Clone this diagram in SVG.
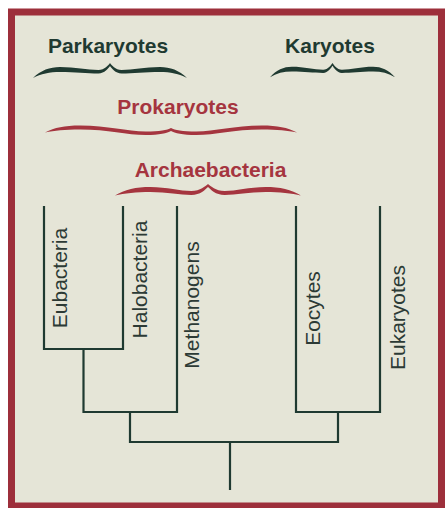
<svg xmlns="http://www.w3.org/2000/svg" width="445" height="508" viewBox="0 0 445 508">
  <style>
    .head { font-family: "Liberation Sans", Arial, sans-serif; font-weight: bold; font-size: 21px; text-anchor: middle; }
    .green { fill: #1f3a31; }
    .red { fill: #a5353f; }
    .leaf { font-family: "Liberation Sans", Arial, sans-serif; font-size: 21px; fill: #2c3a35; text-anchor: middle; }
    .branch { fill: none; stroke: #1f3a31; stroke-width: 2.2; stroke-linecap: square; stroke-linejoin: miter; }
  </style>
  <defs>
    <path id="braceA" d="M -100,15 C -90,7.3 -78,4 -65,4 C -45,4 -30,7 -15,7 C -7,7 -2,2 0,0 C 2,2 7,7 15,7 C 30,7 45,4 65,4 C 78,4 90,7.3 100,15 C 90,10.8 78,9 65,9 C 45,9 30,10.5 15,10.5 C 7,10.5 2,5 0,3 C -2,5 -7,10.5 -15,10.5 C -30,10.5 -45,9 -65,9 C -78,9 -90,10.8 -100,15 Z"/>
  </defs>

  <rect x="0" y="0" width="445" height="508" fill="#ffffff"/>
  <rect x="11.5" y="12" width="430" height="494" fill="#e5e5d7" stroke="#9d2f3b" stroke-width="7"/>

  <g id="parkaryotes">
    <text class="head green" x="108" y="53">Parkaryotes</text>
    <use href="#braceA" transform="translate(110,63) scale(0.77,1)" fill="#1f3a31"/>
  </g>
  <g id="karyotes">
    <text class="head green" x="330" y="53">Karyotes</text>
    <use href="#braceA" transform="translate(332.5,63) scale(0.625,0.95)" fill="#1f3a31"/>
  </g>
  <g id="prokaryotes">
    <text class="head red" x="178" y="114">Prokaryotes</text>
    <path transform="translate(171,128) scale(1.26,1)" fill="#a5353f" d="M -100,4.5 C -92,-0.5 -85,-2.5 -72,-2.5 C -50,-2.5 -35,3.5 -20,3.5 C -9,3.5 -3,2 0,0 C 3,2 9,3.5 20,3.5 C 35,3.5 50,-2.5 72,-2.5 C 85,-2.5 92,-0.5 100,4.5 C 92,2.5 85,1.5 72,1.5 C 50,1.5 35,7 20,7 C 9,7 3,5 0,3 C -3,5 -9,7 -20,7 C -35,7 -50,1.5 -72,1.5 C -85,1.5 -92,2.5 -100,4.5 Z"/>
  </g>
  <g id="archaebacteria">
    <text class="head red" x="210.5" y="177">Archaebacteria</text>
    <path transform="translate(208,184) scale(0.93,1)" fill="#a5353f" d="M -100,11.5 C -90,5.5 -77,3 -62,3 C -44,3 -30,7 -18,7 C -8,7 -3,2 0,0 C 3,2 8,7 18,7 C 30,7 44,3 62,3 C 77,3 90,5.5 100,11.5 C 90,9.5 77,8 62,8 C 44,8 30,11 18,11 C 8,11 3,5.5 0,3 C -3,5.5 -8,11 -18,11 C -30,11 -44,8 -62,8 C -77,8 -90,9.5 -100,11.5 Z"/>
  </g>

  <g id="eubacteria"><text class="leaf" transform="translate(67,278) rotate(-90)">Eubacteria</text></g>
  <g id="halobacteria"><text class="leaf" transform="translate(147,279.5) rotate(-90)">Halobacteria</text></g>
  <g id="methanogens"><text class="leaf" transform="translate(199,305) rotate(-90)">Methanogens</text></g>
  <g id="eocytes"><text class="leaf" transform="translate(320,308.5) rotate(-90)">Eocytes</text></g>
  <g id="eukaryotes"><text class="leaf" transform="translate(405,317.5) rotate(-90)">Eukaryotes</text></g>

  <g id="connectors" class="branch">
    <path d="M 44,207 V 349 H 123 V 207"/>
    <path d="M 83.5,349 V 412 H 177 V 207"/>
    <path d="M 296,207 V 412 H 380 V 207"/>
    <path d="M 130,412 V 442 H 338 V 412"/>
    <path d="M 230,442 V 490" stroke-linecap="butt"/>
  </g>
</svg>
